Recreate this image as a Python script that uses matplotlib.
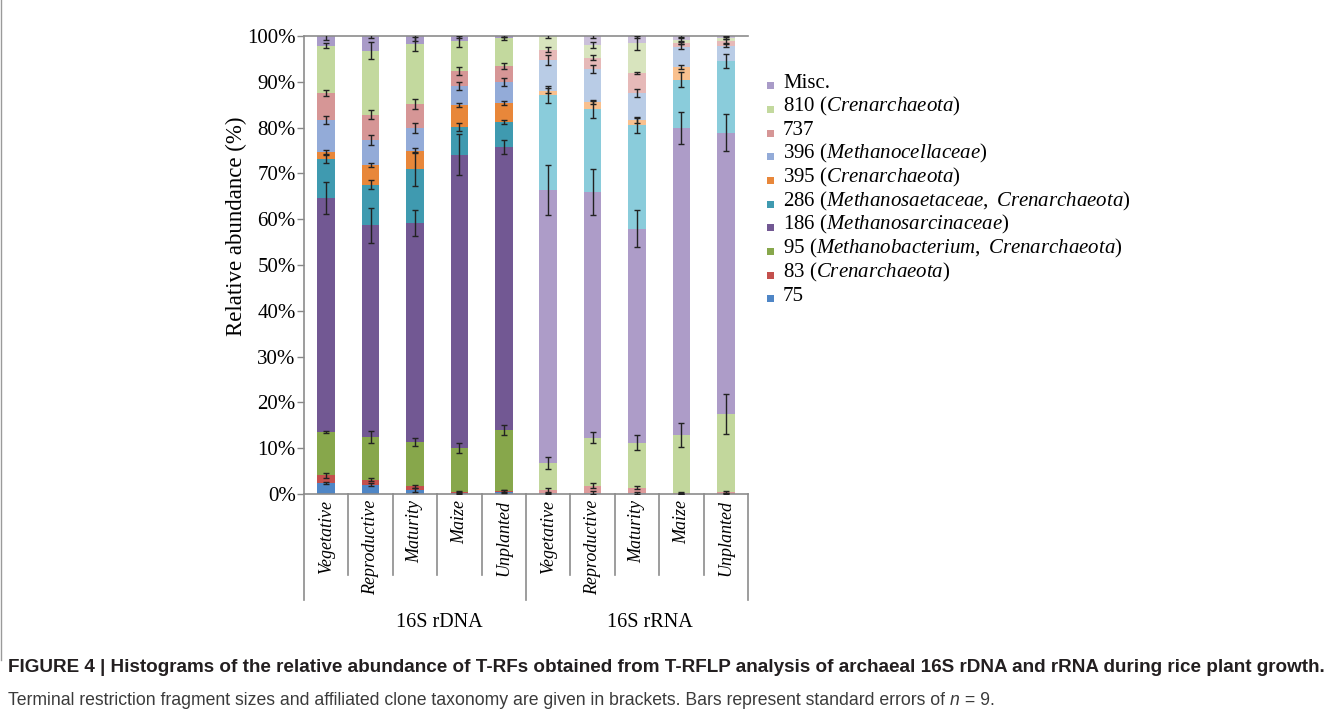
import numpy as np
import matplotlib.pyplot as plt
from matplotlib.patches import Rectangle
from matplotlib.lines import Line2D
from matplotlib import font_manager

plt.rcParams['font.family'] = 'Liberation Serif'
plt.rcParams['mathtext.fontset'] = 'custom'
plt.rcParams['mathtext.rm'] = 'Liberation Serif'
plt.rcParams['mathtext.it'] = 'Liberation Serif:italic'

# bars: five samples of 16S rDNA, then the same five of 16S rRNA
stages = ["Vegetative", "Reproductive", "Maturity", "Maize", "Unplanted"] * 2
groups = ["16S rDNA", "16S rRNA"]

# relative abundance (%) of each T-RF, stacked from the bottom
t75 = [2.4, 2.0, 0.9, 0.3, 0.5, 0.2, 0.3, 0.2, 0.1, 0.1]
t83 = [1.7, 1.1, 0.8, 0.2, 0.2, 0.7, 1.5, 1.2, 0.1, 0.4]
t95 = [9.5, 9.3, 9.7, 9.5, 13.3, 5.9, 10.5, 9.8, 12.7, 17.0]
t186 = [51.1, 46.3, 47.7, 64.1, 61.8, 59.6, 53.7, 46.7, 67.1, 61.4]
t286 = [8.4, 8.8, 11.9, 6.1, 5.4, 20.8, 18.0, 22.7, 10.5, 15.6]
t395 = [1.6, 4.3, 4.0, 4.7, 4.2, 0.9, 1.5, 1.0, 2.7, 0.0]
t396 = [6.9, 5.5, 4.9, 4.2, 4.5, 6.6, 7.3, 6.0, 4.5, 3.4]
t737 = [6.0, 5.5, 5.2, 3.3, 3.5, 2.3, 2.5, 4.3, 0.8, 1.0]
t810 = [10.3, 14.0, 13.2, 6.4, 6.1, 3.0, 2.7, 6.6, 0.7, 0.7]
misc = [2.1, 3.2, 1.7, 1.2, 0.5, 0.0, 2.0, 1.5, 0.8, 0.4]

# standard errors (n = 9)
se75 = [0.2, 0.3, 0.4, 0.2, 0.3, 0.1, 0.4, 0.2, 0.1, 0.1]
se83 = [0.5, 0.3, 0.3, 0.2, 0.2, 0.4, 0.5, 0.4, 0.2, 0.2]
se95 = [0.2, 1.3, 0.9, 1.1, 1.1, 1.3, 1.2, 1.7, 2.6, 4.4]
se186 = [3.5, 3.8, 2.8, 4.5, 1.6, 5.4, 5.0, 4.0, 3.5, 4.0]
se286 = [0.9, 1.0, 3.7, 0.9, 0.5, 1.8, 2.0, 1.7, 1.6, 1.5]
se395 = [0.4, 0.5, 0.5, 0.4, 0.5, 0.6, 0.4, 0.5, 0.5, 0.0]
se396 = [0.9, 1.0, 1.0, 0.9, 0.9, 1.1, 0.9, 0.9, 0.6, 0.4]
se737 = [0.6, 1.0, 1.1, 0.9, 0.6, 0.5, 0.5, 0.2, 0.3, 0.5]
se810 = [0.5, 1.9, 1.5, 1.1, 0.3, 0.5, 0.6, 1.5, 0.5, 0.3]
semisc = [0.8, 0.5, 1.0, 0.5, 0.3, 0.0, 0.5, 0.5, 0.5, 0.3]

labels = ["75", r"83 ($\mathit{Crenarchaeota}$)",
          r"95 ($\mathit{Methanobacterium,\ Crenarchaeota}$)",
          r"186 ($\mathit{Methanosarcinaceae}$)",
          r"286 ($\mathit{Methanosaetaceae,\ Crenarchaeota}$)",
          r"395 ($\mathit{Crenarchaeota}$)",
          r"396 ($\mathit{Methanocellaceae}$)", "737",
          r"810 ($\mathit{Crenarchaeota}$)", "Misc."]
values = [t75, t83, t95, t186, t286, t395, t396, t737, t810, misc]
errors = [se75, se83, se95, se186, se286, se395, se396, se737, se810, semisc]

# DNA bars in full colour, RNA bars in the pale version
dna_colors = ["#4F86C6", "#C4504D", "#87A74B", "#725893", "#3F9AB0",
              "#E8873A", "#93ABD8", "#D69696", "#C3D99E", "#A99BC8"]
rna_colors = ["#93B2D8", "#DE9B9B", "#C2D79C", "#AD9CC8", "#8ACCDB",
              "#F9C08E", "#B9CCE6", "#E6B9B8", "#D8E4BE", "#CBC0DA"]

W, H = 1342, 720
fig = plt.figure(figsize=(W / 100, H / 100), dpi=100)
ax = fig.add_axes([304 / W, 1 - 494 / H, 444 / W, 458 / H])

x = np.arange(len(stages))
bottom = np.zeros(len(stages))
for vals, errs, c_dna, c_rna in zip(values, errors, dna_colors, rna_colors):
    vals = np.array(vals)
    colors = [c_dna] * 5 + [c_rna] * 5
    ax.bar(x, vals, width=0.4, bottom=bottom, color=colors, linewidth=0, zorder=2)
    top = bottom + vals
    errs = np.array(errs)
    keep = errs > 0
    ax.errorbar(x[keep], top[keep], yerr=errs[keep], fmt='none', ecolor='#222222',
                elinewidth=1.0, capsize=2.5, capthick=1.0, zorder=3)
    bottom = top

ax.set_xlim(-0.5, 9.5)
ax.set_ylim(0, 100)
ax.set_yticks(np.arange(0, 101, 10))
ax.set_yticklabels([f"{v}%" for v in range(0, 101, 10)], fontsize=15)
ax.tick_params(axis='y', direction='out', length=5, width=1, color='#888888', pad=1)
ax.set_xticks([])
for side in ['left', 'top', 'bottom']:
    ax.spines[side].set_color('#8c8c8c')
    ax.spines[side].set_linewidth(1.2)
ax.spines['right'].set_visible(False)
ax.set_ylabel("Relative abundance (%)", fontsize=16.5, va='center')
ax.yaxis.set_label_coords(-0.153, 0.585)

# two-level category axis below the bars
trans = ax.get_xaxis_transform()
for b in np.arange(-0.5, 10, 1.0):
    depth = -0.231 if b in (-0.5, 4.5, 9.5) else -0.177
    ax.add_line(Line2D([b, b], [0, depth], transform=trans, color='#8c8c8c',
                       linewidth=1.2, clip_on=False))
for i, s in enumerate(stages):
    ax.text(i, -0.013, s, transform=trans, rotation=90, ha='center', va='top',
            fontsize=13, style='italic')
for gx, g in zip([2.55, 7.3], groups):
    ax.text(gx, -0.28, g, transform=trans, ha='center', va='center', fontsize=14.5)

# legend, top entry first
for i, k in enumerate(range(len(labels) - 1, -1, -1)):
    base = 87.5 + 23.7 * i
    fig.add_artist(Rectangle((767 / W, 1 - (base + 1.7) / H), 7 / W, 7 / H,
                             transform=fig.transFigure, color=dna_colors[k], linewidth=0))
    fig.text(783 / W, 1 - base / H, labels[k], fontsize=15, va='baseline', ha='left')

# caption
sans = 'Liberation Sans Narrow'
if sans not in {f.name for f in font_manager.fontManager.ttflist}:
    sans = 'Liberation Sans'
line1 = ("FIGURE 4 | Histograms of the relative abundance of T-RFs obtained from "
         "T-RFLP analysis of archaeal 16S rDNA and rRNA during rice plant growth.")
t1 = fig.text(8 / W, 1 - 672 / H, line1, family=sans, weight='bold', fontsize=14,
              va='baseline', color='#231f20')
fig.canvas.draw()
r = fig.canvas.get_renderer()
w1 = t1.get_window_extent(r).width
t1.set_fontsize(14 * 1322 / w1)

cap_size = t1.get_fontsize() * 0.93
pieces = [("Terminal restriction fragment sizes and affiliated clone taxonomy are given in "
           "brackets. Bars represent standard errors of ", 'normal'),
          ("n", 'italic'), (" = 9.", 'normal')]
xpos = 8
for txt, st in pieces:
    t = fig.text(xpos / W, 1 - 705 / H, txt, family=sans, style=st, fontsize=cap_size,
                 va='baseline', color='#3b3b3b')
    xpos = t.get_window_extent(r).x1

# frame line at the left edge of the panel
fig.add_artist(Line2D([1 / W, 1 / W], [1, 1 - 660 / H], transform=fig.transFigure,
                      color='#9a9a9a', linewidth=1))

fig.savefig("out.png", dpi=100)
